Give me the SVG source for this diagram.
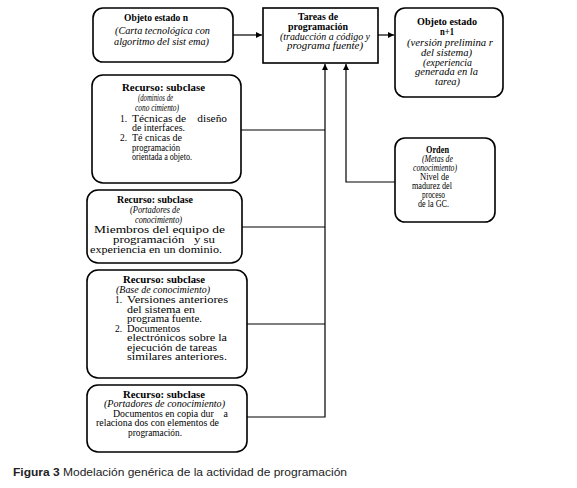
<svg xmlns="http://www.w3.org/2000/svg" width="577" height="488" viewBox="0 0 577 488" font-family="'Liberation Serif','Times New Roman',serif">
<style>
.box{fill:#fff;stroke:#000;stroke-width:1.6}
.ln{fill:none;stroke:#000;stroke-width:1.2}
text{font-family:"Liberation Serif","Times New Roman",serif;font-size:9.5px;fill:#000;white-space:pre}
.b{font-weight:bold}
.i{font-style:italic}
.cap{font-family:"Liberation Sans",Arial,sans-serif;font-size:11.5px;fill:#222}
</style>
<defs>
<marker id="ah" viewBox="0 0 8 8" refX="8" refY="4" markerWidth="6" markerHeight="6" markerUnits="userSpaceOnUse" orient="auto">
<path d="M0,0 L8,4 L0,8 z" fill="#000"/>
</marker>
</defs>
<rect width="577" height="488" fill="#fff"/>
<g id="connectors">
<line class="ln" x1="233" y1="35" x2="262" y2="35" marker-end="url(#ah)"/>
<line class="ln" x1="378" y1="35" x2="394" y2="35" marker-end="url(#ah)"/>
<polyline class="ln" points="247,417 325,417 325,64" marker-end="url(#ah)"/>
<line class="ln" x1="241" y1="130" x2="325" y2="130"/>
<line class="ln" x1="242" y1="227" x2="325" y2="227"/>
<line class="ln" x1="247" y1="324" x2="325" y2="324"/>
<polyline class="ln" points="395,182 346,182 346,64" marker-end="url(#ah)"/>
</g>
<g id="n1">
<rect class="box" x="93" y="8" width="140" height="54" rx="10"/>
<text class="b" x="124" y="21" textLength="64" lengthAdjust="spacingAndGlyphs">Objeto estado n</text>
<text class="i" x="115" y="34" textLength="95" lengthAdjust="spacingAndGlyphs">(Carta tecnológica con</text>
<text class="i" x="114" y="45" textLength="95" lengthAdjust="spacingAndGlyphs">algoritmo del sist ema)</text>
</g>
<g id="tareas">
<rect class="box" x="263" y="8" width="115" height="55"/>
<text class="b" x="298" y="20" textLength="40" lengthAdjust="spacingAndGlyphs">Tareas de</text>
<text class="b" x="288" y="30" textLength="60" lengthAdjust="spacingAndGlyphs">programación</text>
<text class="i" x="280" y="40" textLength="90" lengthAdjust="spacingAndGlyphs">(traducción a código y</text>
<text class="i" x="287" y="49" textLength="76" lengthAdjust="spacingAndGlyphs">programa fuente)</text>
</g>
<g id="n2">
<rect class="box" x="395" y="8" width="108" height="89" rx="10"/>
<text class="b" x="417" y="25" textLength="60" lengthAdjust="spacingAndGlyphs">Objeto estado</text>
<text class="b" x="440" y="35" textLength="14" lengthAdjust="spacingAndGlyphs">n+1</text>
<text class="i" x="407" y="46" textLength="86" lengthAdjust="spacingAndGlyphs">(versión prelimina r</text>
<text class="i" x="421" y="56" textLength="51" lengthAdjust="spacingAndGlyphs">del sistema)</text>
<text class="i" x="423" y="66" textLength="49" lengthAdjust="spacingAndGlyphs">(experiencia</text>
<text class="i" x="415" y="75" textLength="63" lengthAdjust="spacingAndGlyphs">generada en la</text>
<text class="i" x="435" y="85" textLength="25" lengthAdjust="spacingAndGlyphs">tarea)</text>
</g>
<g id="r1">
<rect class="box" x="92" y="75" width="149" height="108" rx="11"/>
<text class="b" x="122" y="91" font-size="10" textLength="83" lengthAdjust="spacingAndGlyphs">Recurso: subclase</text>
<text class="i" x="138" y="101" textLength="35" lengthAdjust="spacingAndGlyphs">(dominios de</text>
<text class="i" x="135" y="111" textLength="44" lengthAdjust="spacingAndGlyphs">cono cimiento)</text>
<text x="120" y="122">1.</text>
<text x="132" y="122" textLength="95" lengthAdjust="spacingAndGlyphs">Técnicas de    diseño</text>
<text x="132" y="131" textLength="53" lengthAdjust="spacingAndGlyphs">de interfaces.</text>
<text x="120" y="141">2.</text>
<text x="132" y="141" textLength="50" lengthAdjust="spacingAndGlyphs">Té cnicas de</text>
<text x="132" y="151" textLength="48" lengthAdjust="spacingAndGlyphs">programación</text>
<text x="132" y="160" textLength="60" lengthAdjust="spacingAndGlyphs">orientada a objeto.</text>
</g>
<g id="orden">
<rect class="box" x="395" y="138" width="100" height="84" rx="10"/>
<text class="b" x="426" y="153" textLength="23" lengthAdjust="spacingAndGlyphs">Orden</text>
<text class="i" x="422" y="162" textLength="31" lengthAdjust="spacingAndGlyphs">(Metas de</text>
<text class="i" x="413" y="171" textLength="44" lengthAdjust="spacingAndGlyphs">conocimiento)</text>
<text x="420" y="180" textLength="29" lengthAdjust="spacingAndGlyphs">Nivel de</text>
<text x="412" y="189" textLength="40" lengthAdjust="spacingAndGlyphs">madurez del</text>
<text x="422" y="198" textLength="23" lengthAdjust="spacingAndGlyphs">proceso</text>
<text x="418" y="207" textLength="31" lengthAdjust="spacingAndGlyphs">de la GC.</text>
</g>
<g id="r2">
<rect class="box" x="87" y="190" width="155" height="73" rx="11"/>
<text class="b" x="117" y="203" font-size="10" textLength="76" lengthAdjust="spacingAndGlyphs">Recurso: subclase</text>
<text class="i" x="130" y="213" textLength="50" lengthAdjust="spacingAndGlyphs">(Portadores de</text>
<text class="i" x="135" y="223" textLength="47" lengthAdjust="spacingAndGlyphs">conocimiento)</text>
<text x="94" y="233" font-size="10" textLength="131" lengthAdjust="spacingAndGlyphs">Miembros del equipo de</text>
<text x="113" y="243" font-size="10" textLength="102" lengthAdjust="spacingAndGlyphs">programación   y su</text>
<text x="90" y="253" font-size="10" textLength="132" lengthAdjust="spacingAndGlyphs">experiencia en un dominio.</text>
</g>
<g id="r3">
<rect class="box" x="87" y="270" width="160" height="108" rx="11"/>
<text class="b" x="123" y="283" font-size="10" textLength="82" lengthAdjust="spacingAndGlyphs">Recurso: subclase</text>
<text class="i" x="116" y="293" textLength="94" lengthAdjust="spacingAndGlyphs">(Base de conocimiento)</text>
<text x="115" y="303">1.</text>
<text x="127" y="303" textLength="101" lengthAdjust="spacingAndGlyphs">Versiones anteriores</text>
<text x="127" y="312.5" textLength="68" lengthAdjust="spacingAndGlyphs">del sistema en</text>
<text x="127" y="322" textLength="75" lengthAdjust="spacingAndGlyphs">programa fuente.</text>
<text x="115" y="331.5">2.</text>
<text x="127" y="331.5" textLength="53" lengthAdjust="spacingAndGlyphs">Documentos</text>
<text x="127" y="341" textLength="100" lengthAdjust="spacingAndGlyphs">electrónicos sobre la</text>
<text x="127" y="350.5" textLength="90" lengthAdjust="spacingAndGlyphs">ejecución de tareas</text>
<text x="127" y="360" textLength="100" lengthAdjust="spacingAndGlyphs">similares anteriores.</text>
</g>
<g id="r4">
<rect class="box" x="87" y="385" width="160" height="67" rx="11"/>
<text class="b" x="123" y="398" textLength="82" lengthAdjust="spacingAndGlyphs">Recurso: subclase</text>
<text class="i" x="104" y="407" textLength="121" lengthAdjust="spacingAndGlyphs">(Portadores de conocimiento)</text>
<text x="113" y="417" textLength="115" lengthAdjust="spacingAndGlyphs">Documentos en copia dur    a</text>
<text x="96" y="426" textLength="123" lengthAdjust="spacingAndGlyphs">relaciona dos con elementos de</text>
<text x="128" y="436" textLength="54" lengthAdjust="spacingAndGlyphs">programación.</text>
</g>
<text class="cap" x="13" y="476" textLength="334" lengthAdjust="spacingAndGlyphs"><tspan font-weight="bold">Figura 3</tspan> Modelación genérica de la actividad de programación</text>
</svg>
